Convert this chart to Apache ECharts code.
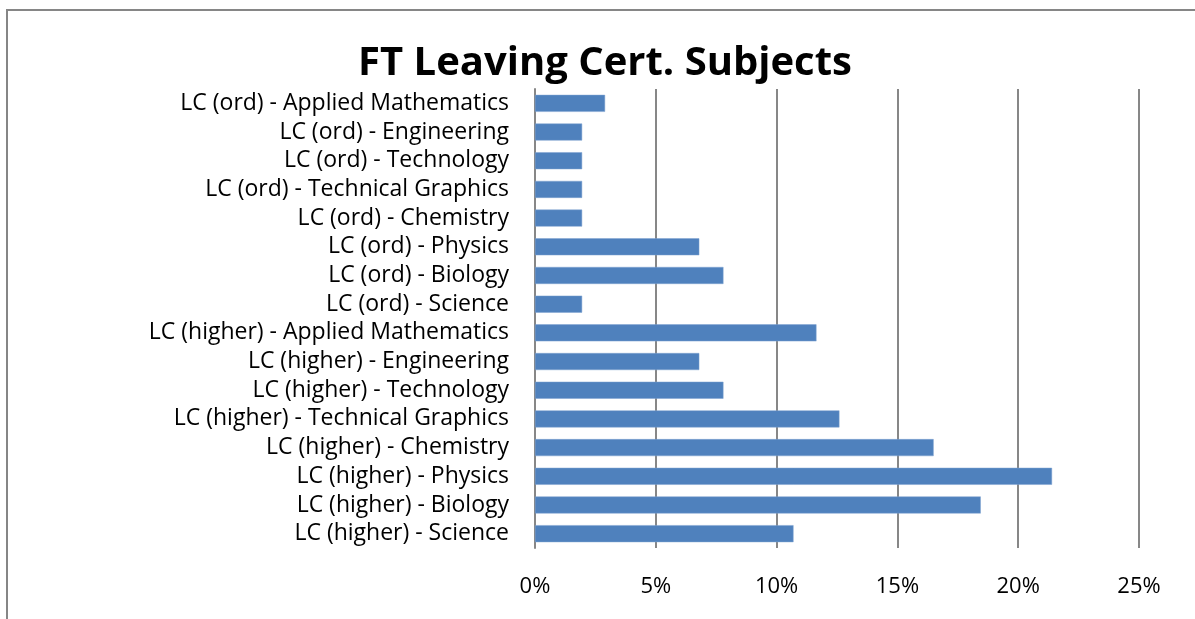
<!DOCTYPE html>
<html>
<head>
    <meta charset="utf-8">
    <script type="text/javascript" src="https://cdn.jsdelivr.net/npm/echarts@6/dist/echarts.min.js"></script>
</head>
<body style="margin: 0">
    <div id="container" style="height: 619px; width: 1195px;"></div>
    <script type="text/javascript">
    // categories listed bottom to top (category axis starts at the bottom)
    var subjects = [
        'LC (higher) - Science',
        'LC (higher) - Biology',
        'LC (higher) - Physics',
        'LC (higher) - Chemistry',
        'LC (higher) - Technical Graphics',
        'LC (higher) - Technology',
        'LC (higher) - Engineering',
        'LC (higher) - Applied Mathematics',
        'LC (ord) - Science',
        'LC (ord) - Biology',
        'LC (ord) - Physics',
        'LC (ord) - Chemistry',
        'LC (ord) - Technical Graphics',
        'LC (ord) - Technology',
        'LC (ord) - Engineering',
        'LC (ord) - Applied Mathematics'
    ];
    // percent of students
    var shares = [10.7, 18.45, 21.4, 16.5, 12.6, 7.8, 6.8, 11.65, 1.95, 7.8, 6.8, 1.95, 1.95, 1.95, 1.95, 2.9];
    var xTicks = [0, 5, 10, 15, 20, 25];

    var dom = document.getElementById("container");
    var myChart = echarts.init(dom);
    var font = 'Open Sans';

    var option = {
        backgroundColor: '#fff',
        animation: false,
        title: {
            text: 'FT Leaving Cert. Subjects',
            left: 600,
            top: 39,
            textAlign: 'center',
            textStyle: {
                fontFamily: font,
                fontSize: 40,
                fontWeight: 'bold',
                color: '#000'
            }
        },
        graphic: [{
            type: 'rect',
            shape: { x: 7, y: 10, width: 1200, height: 620 },
            style: { fill: 'none', stroke: '#868686', lineWidth: 2 },
            silent: true
        }],
        grid: {
            left: 535,
            right: 56,
            top: 89,
            bottom: 71
        },
        xAxis: {
            type: 'value',
            min: xTicks[0],
            max: xTicks[xTicks.length - 1],
            interval: 5,
            axisLine: { show: false },
            axisTick: { show: false },
            axisLabel: {
                formatter: '{value}%',
                margin: 28,
                fontFamily: font,
                fontSize: 22,
                color: '#000'
            },
            splitLine: { lineStyle: { color: '#878787', width: 2 } }
        },
        yAxis: {
            type: 'category',
            data: subjects,
            axisLine: { show: true, lineStyle: { color: '#878787', width: 2 } },
            axisTick: { show: false },
            axisLabel: {
                interval: 0,
                margin: 26,
                padding: [4, 0, 0, 0],
                fontFamily: font,
                fontSize: 23,
                color: '#000'
            }
        },
        series: [{
            type: 'bar',
            data: shares,
            barWidth: 17,
            itemStyle: {
                color: '#4F81BD',
                borderColor: '#7FA3D0',
                borderWidth: 0.5
            }
        }]
    };

    myChart.setOption(option);
    </script>
</body>
</html>
